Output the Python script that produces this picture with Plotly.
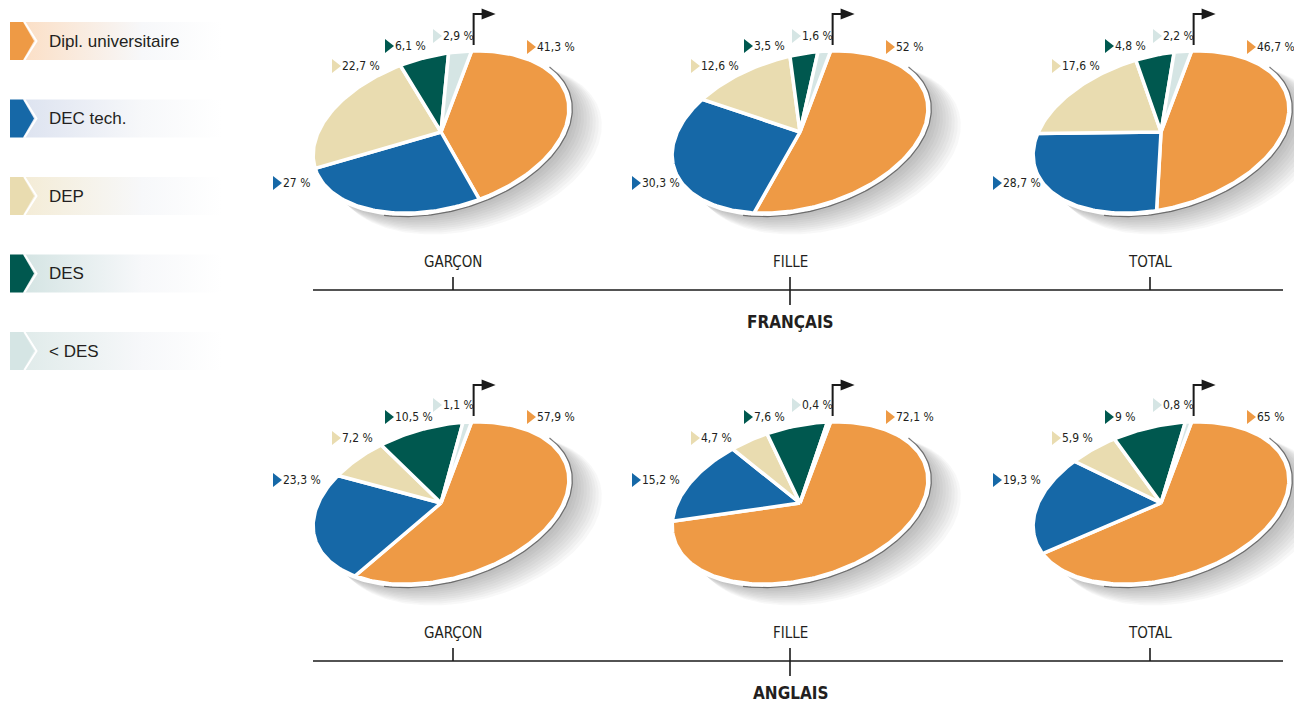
import numpy as np
import plotly.graph_objects as go

W, H = 1294, 702

# ---- data -------------------------------------------------------------
categories = ["Dipl. universitaire", "DEC tech.", "DEP", "DES", "< DES"]
panels = ["GARÇON", "FILLE", "TOTAL"]
languages = ["FRANÇAIS", "ANGLAIS"]

francais_garcon = [41.3, 27, 22.7, 6.1, 2.9]
francais_fille = [52, 30.3, 12.6, 3.5, 1.6]
francais_total = [46.7, 28.7, 17.6, 4.8, 2.2]
anglais_garcon = [57.9, 23.3, 7.2, 10.5, 1.1]
anglais_fille = [72.1, 15.2, 4.7, 7.6, 0.4]
anglais_total = [65, 19.3, 5.9, 9, 0.8]

series = {
    "FRANÇAIS": [francais_garcon, francais_fille, francais_total],
    "ANGLAIS": [anglais_garcon, anglais_fille, anglais_total],
}

# ---- styling / layout ---------------------------------------------------
colors = ["#EE9A45", "#1668A7", "#E9DCB0", "#00584F", "#D5E5E4"]
tints = ["#FBDFC6", "#DDE3F0", "#F4ECD6", "#D4E4E3", "#E0EBEA"]
TEXT = "#231F20"
NARROW = "Liberation Sans Narrow, DejaVu Sans Condensed, Arial Narrow, sans-serif"
SANS = "Liberation Sans, Arial, sans-serif"

pie_cx = [441, 800, 1161]
pie_cy = {"FRANÇAIS": 132, "ANGLAIS": 503}
axis_y = {"FRANÇAIS": 290, "ANGLAIS": 661}
tick_x = [453, 790, 1150]
A, B = 131, 76            # ellipse semi-axes (tilted disc)
TILT = np.radians(15.5)    # rotation of the major axis
T0 = 67.0                  # parametric angle where the first slice starts

# label marker offsets from the pie centre, per category
label_dx = [89, -165, -106, -53, -5]
label_dy = {"FRANÇAIS": [-85, 51, -66, -86, -96],
            "ANGLAIS": [-86, -23, -65, -86, -98]}


def ellipse_xy(cx, cy, t_deg, a=A, b=B):
    t = np.radians(np.asarray(t_deg, dtype=float))
    lx, ly = a * np.cos(t), b * np.sin(t)
    dx = lx * np.cos(TILT) - ly * np.sin(TILT)
    dy = lx * np.sin(TILT) + ly * np.cos(TILT)
    return cx + dx, cy - dy


def fmt(v):
    return f"{v:g}".replace(".", ",") + " %"


fig = go.Figure()
annotations = []
shapes = []


def poly(x, y, fillcolor, line_color="rgba(0,0,0,0)", line_width=0, **kw):
    fig.add_trace(go.Scatter(
        x=list(x), y=list(y), mode="lines", fill="toself",
        fillcolor=fillcolor, line=dict(color=line_color, width=line_width),
        hoverinfo="skip", showlegend=False, **kw))


# ---- legend -------------------------------------------------------------
for i, (cat, col, tint) in enumerate(zip(categories, colors, tints)):
    y0 = 22 + i * 77.5
    y1 = y0 + 38
    ym = (y0 + y1) / 2
    fig.add_trace(go.Scatter(
        x=[23, 222, 222, 23, 23], y=[y0, y0, y1, y1, y0], mode="lines",
        fill="toself", line=dict(width=0, color="rgba(0,0,0,0)"),
        fillgradient=dict(type="horizontal",
                          colorscale=[[0, tint], [0.6, "#F7F8FA"], [1, "#FFFFFF"]]),
        hoverinfo="skip", showlegend=False))
    poly([10, 23, 34, 23, 10, 10], [y0, y0, ym, y1, y1, y0], col)
    fig.add_trace(go.Scatter(
        x=[24.5, 36.5, 24.5], y=[y0, ym, y1], mode="lines",
        line=dict(color="white", width=2), hoverinfo="skip", showlegend=False))
    annotations.append(dict(x=47, y=ym, text=cat, showarrow=False,
                            xanchor="left", yanchor="middle",
                            font=dict(family=SANS, size=17, color=TEXT)))

# ---- pies ---------------------------------------------------------------
for lang in languages:
    cy = pie_cy[lang]
    for p, cx in enumerate(pie_cx):
        vals = series[lang][p]
        full = np.linspace(0, 360, 241)

        # soft drop shadow towards the lower right
        for k in range(10):
            sx, sy = ellipse_xy(cx + 6 + 2.4 * k, cy + 5 + 1.3 * k, full,
                                A + 0.6 * k, B + 0.5 * k)
            poly(sx, sy, "rgba(60,60,60,0.035)")

        # white rim with a thin grey edge on the lower right
        rx, ry = ellipse_xy(cx, cy, full, A + 3, B + 3)
        poly(rx, ry, "white")
        ex, ey = ellipse_xy(cx, cy, np.linspace(25, -125, 120), A + 3.5, B + 3.5)
        fig.add_trace(go.Scatter(x=ex, y=ey, mode="lines",
                                 line=dict(color="rgba(80,80,80,0.75)", width=1.2),
                                 hoverinfo="skip", showlegend=False))

        # slices, clockwise from the start angle
        cum = 0.0
        for v, col in zip(vals, colors):
            t1 = T0 - cum * 3.6
            t2 = t1 - v * 3.6
            n = max(4, int(v * 3))
            ax, ay = ellipse_xy(cx, cy, np.linspace(t1, t2, n))
            poly(np.r_[cx, ax, cx], np.r_[cy, ay, cy], col,
                 line_color="white", line_width=3.5)
            cum += v

        # start marker: bent arrow above the first slice
        fx, fy = ellipse_xy(cx, cy, T0)
        fx += 2
        fig.add_trace(go.Scatter(
            x=[fx, fx, fx + 9], y=[fy - 6, fy - 37, fy - 37], mode="lines",
            line=dict(color="#1A1A1A", width=2), hoverinfo="skip", showlegend=False))
        poly([fx + 8, fx + 22, fx + 8, fx + 8],
             [fy - 42.5, fy - 37, fy - 31.5, fy - 42.5], "#1A1A1A")

        # value labels with coloured pointers
        mx = [cx + d for d in label_dx]
        my = [cy + d for d in label_dy[lang]]
        fig.add_trace(go.Scatter(
            x=mx, y=my, mode="markers",
            marker=dict(symbol="triangle-right", size=12, color=colors,
                        line=dict(width=0)),
            hoverinfo="skip", showlegend=False))
        for x, y, v in zip(mx, my, vals):
            annotations.append(dict(x=x + 5, y=y, text=fmt(v), showarrow=False,
                                    xanchor="left", yanchor="middle",
                                    font=dict(family=NARROW, size=12, color=TEXT)))

    # group axis with ticks and labels
    ay = axis_y[lang]
    shapes.append(dict(type="line", x0=313, x1=1283, y0=ay, y1=ay,
                       line=dict(color="#1A1A1A", width=1.6)))
    for j, (tx, name) in enumerate(zip(tick_x, panels)):
        y_end = ay + 15 if j == 1 else ay
        shapes.append(dict(type="line", x0=tx, x1=tx, y0=ay - 13, y1=y_end,
                           line=dict(color="#1A1A1A", width=1.6)))
        annotations.append(dict(x=tx, y=ay - 28, text=name, showarrow=False,
                                xanchor="center", yanchor="middle",
                                font=dict(family=NARROW, size=15, color=TEXT)))
    annotations.append(dict(x=tick_x[1], y=ay + 32, text=f"<b>{lang}</b>",
                            showarrow=False, xanchor="center", yanchor="middle",
                            font=dict(family=NARROW, size=17, color=TEXT)))

fig.update_layout(
    width=W, height=H, autosize=False,
    margin=dict(l=0, r=0, t=0, b=0, pad=0),
    paper_bgcolor="white", plot_bgcolor="white",
    xaxis=dict(range=[0, W], visible=False, fixedrange=True),
    yaxis=dict(range=[H, 0], visible=False, fixedrange=True),
    annotations=annotations, shapes=shapes, showlegend=False,
)

fig.write_html("out.html", config={"displayModeBar": False})
